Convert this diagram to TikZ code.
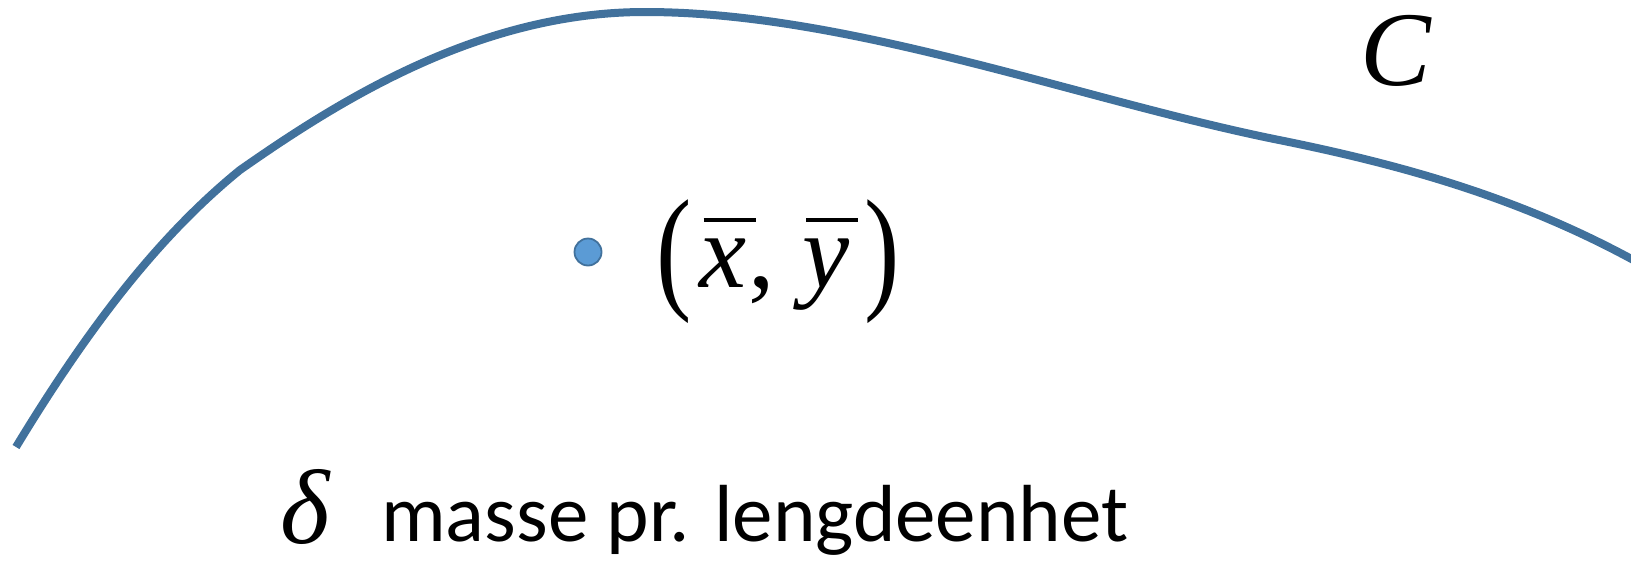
\documentclass[tikz,border=0pt]{standalone}
\usepackage{fontspec}
\setmainfont{Liberation Serif}
\newfontfamily\calib{Carlito}
\usepackage{graphicx}
\definecolor{curveblue}{HTML}{41719C}
\definecolor{dotblue}{HTML}{5B9BD5}
\newcommand\barred[1]{\rlap{\hspace{4pt}\rule[65pt]{52pt}{4pt}}\textit{#1}}
\newcommand\bigparen[1]{\raisebox{-7pt}{\scalebox{1.0}[1.29]{#1}}}
\tikzset{
  curveline/.style={draw=curveblue, line width=8pt, line cap=butt},
  centroid/.style={circle, fill=dotblue, draw=curveblue, line width=1.8pt, minimum size=27pt, inner sep=0pt},
  mathlabel/.style={inner sep=0pt, font=\fontsize{106}{120}\selectfont},
  textlabel/.style={inner sep=0pt, font=\calib\fontsize{81}{90}\selectfont}
}
\begin{document}
\begin{tikzpicture}[x=1pt,y=-1pt]
\useasboundingbox (0,0) rectangle (1631,560);
\begin{scope}
\clip (0,0) rectangle (1631,560);
\draw[curveline] (16,447) .. controls (90,325) and (160,235) .. (240,170)
  .. controls (340,100) and (480,12) .. (645,12)
  .. controls (850,12) and (1080,100) .. (1279,140)
  .. controls (1420,168.4) and (1540,205) .. (1660,275);
\end{scope}
\node[centroid] (g) at (588,252) {};
\node[mathlabel, anchor=base west] (xy) at (656,287)
  {\bigparen{(}\kern8pt\barred{x}\kern2pt,\kern27pt\barred{y}\kern15pt\bigparen{)}};
\node[mathlabel, anchor=base west] (C) at (1360,85) {\itshape C};
\node[mathlabel, anchor=base west] (delta) at (280,543) {\itshape δ};
\node[textlabel, anchor=base west] (txt) at (381,541) {masse pr. lengdeenhet};
\end{tikzpicture}
\end{document}
